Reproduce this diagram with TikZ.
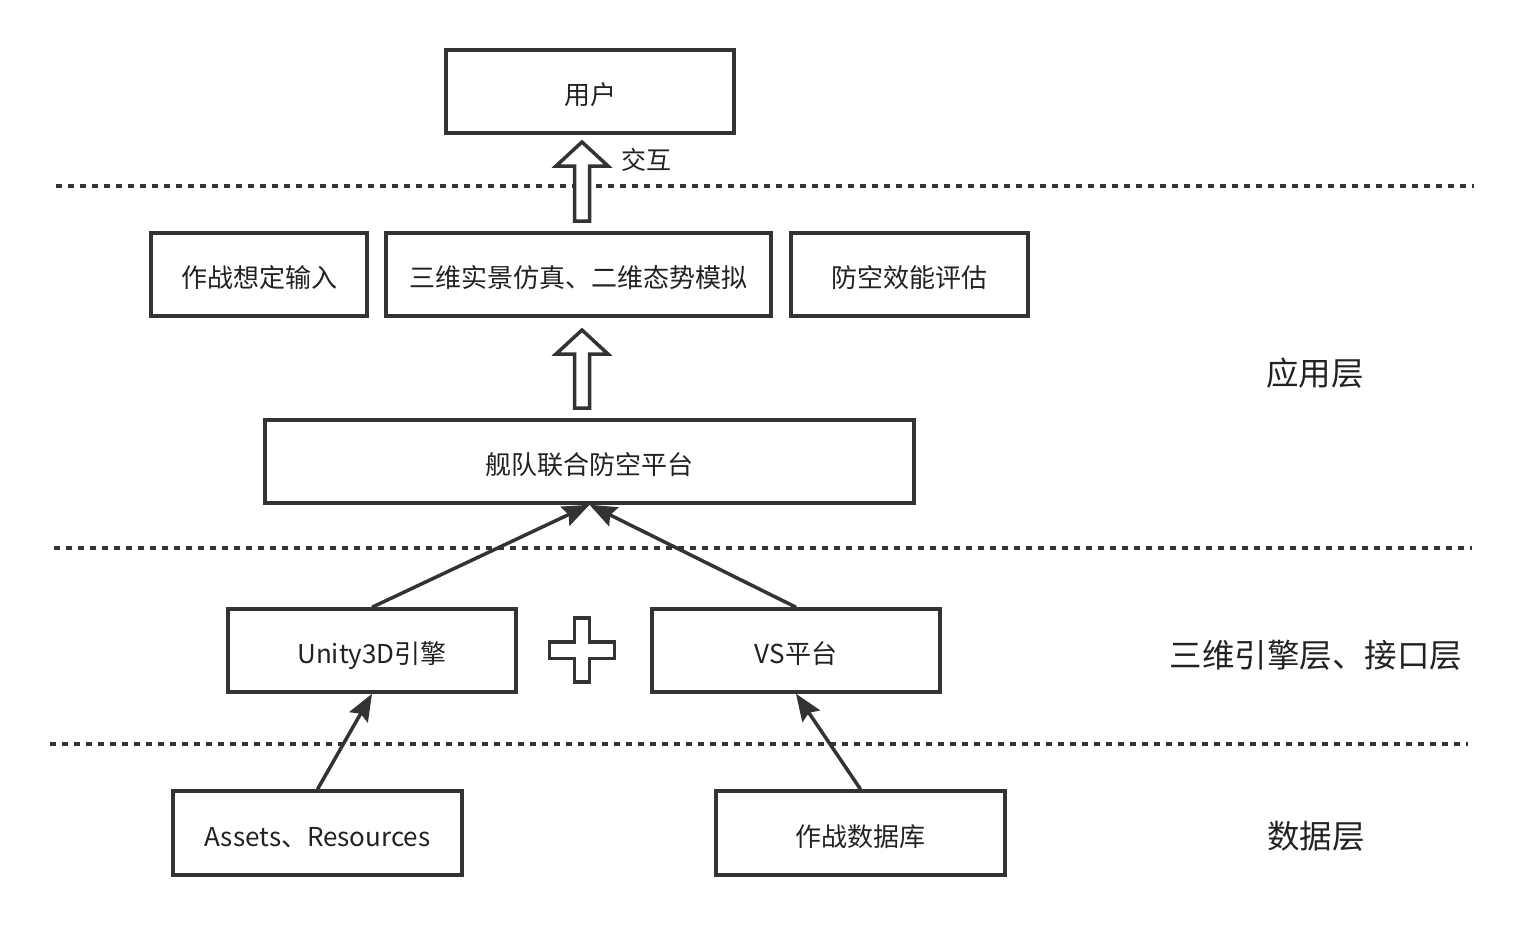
\documentclass[tikz,border=0pt]{standalone}
\usepackage{fontspec}
\newfontfamily\cjk{Noto Sans CJK SC}
\usetikzlibrary{arrows.meta}
\definecolor{ink}{HTML}{333333}
\definecolor{txt}{HTML}{222222}
\begin{document}
\begin{tikzpicture}[x=1pt,y=-1pt,
  box/.style={draw=ink, line width=3.5pt, fill=white, rectangle, inner sep=0pt,
    minimum height=83pt, font=\cjk\fontsize{26}{30}\selectfont, text=txt,
    text height=27pt, text depth=1pt},
  layer/.style={font=\cjk\fontsize{32.5}{36}\selectfont, text=txt},
  sep/.style={draw=ink, line width=3.5pt, dash pattern=on 6pt off 6pt},
  conn/.style={draw=ink, line width=3.5pt, -{Stealth[length=27pt, width=21pt, inset=4pt]}},
  blockarrow/.style={draw=ink, line width=3.5pt, fill=white, line join=miter}
]
\useasboundingbox (0,0) rectangle (1530,924);

% layer separators
\draw[sep] (56,186) -- (1474,186);
\draw[sep] (54,548) -- (1472,548);
\draw[sep] (50,744) -- (1468,744);

% application layer
\node[box, minimum width=288pt] (user) at (590,91.5) {用户};
\node[box, minimum width=216pt] (input) at (259,274.5) {作战想定输入};
\node[box, minimum width=385pt] (sim) at (578.5,274.5) {三维实景仿真、二维态势模拟};
\node[box, minimum width=237pt] (eval) at (909.5,274.5) {防空效能评估};
\node[box, minimum width=649pt] (platform) at (589.5,461.5) {舰队联合防空平台};

% engine and interface layer
\node[box, minimum width=288pt] (unity) at (372,650.5) {Unity3D引擎};
\node[box, minimum width=288pt] (vs) at (796,650.5) {VS平台};

% data layer
\node[box, minimum width=289pt, minimum height=84pt] (assets) at (317.5,833) {Assets、Resources};
\node[box, minimum width=289pt, minimum height=84pt] (db) at (860.5,833) {作战数据库};

% hollow block arrows
\draw[blockarrow] (574.5,221) -- (574.5,166) -- (556,166) -- (582,142) -- (608,166)
  -- (589.5,166) -- (589.5,221) -- cycle;
\draw[blockarrow] (574.5,408) -- (574.5,354) -- (556,354) -- (582,330) -- (608,354)
  -- (589.5,354) -- (589.5,408) -- cycle;
\node[font=\cjk\fontsize{25}{28}\selectfont, text=txt, anchor=west, inner sep=0pt] (interact) at (621,160) {交互};

% plus sign
\draw[blockarrow] (574.5,618) -- (589.5,618) -- (589.5,642) -- (614.5,642) -- (614.5,658.5)
  -- (589.5,658.5) -- (589.5,682) -- (574.5,682) -- (574.5,658.5) -- (549.5,658.5)
  -- (549.5,642) -- (574.5,642) -- cycle;

% connectors
\draw[conn] (unity.north) -- (platform.south);
\draw[conn] (vs.north) -- (platform.south);
\draw[conn] (assets.north) -- (unity.south);
\draw[conn] (db.north) -- (vs.south);

% layer labels
\node[layer] (lapp) at (1315,373) {应用层};
\node[layer] (leng) at (1316,655) {三维引擎层、接口层};
\node[layer] (ldata) at (1316,836) {数据层};
\end{tikzpicture}
\end{document}
